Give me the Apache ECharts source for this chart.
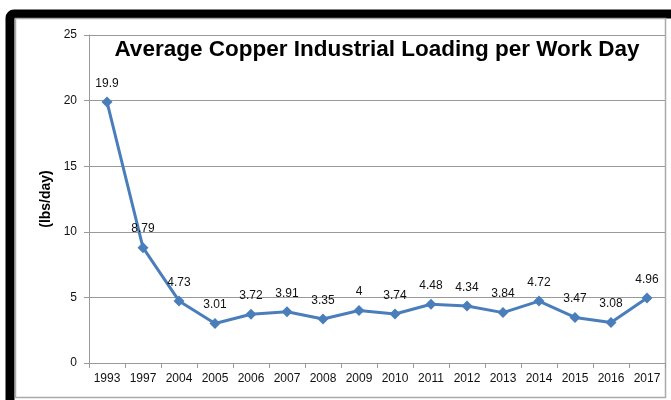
<!DOCTYPE html>
<html><head><meta charset="utf-8">
<script src="https://cdn.jsdelivr.net/npm/echarts@6/dist/echarts.min.js"></script>
<style>html,body{margin:0;padding:0;background:#fff}#c{width:671px;height:400px}</style>
</head><body><div id="c"></div>
<script>
const categories = ['1993','1997','2004','2005','2006','2007','2008','2009','2010','2011','2012','2013','2014','2015','2016','2017'];
const values = [19.9, 8.79, 4.73, 3.01, 3.72, 3.91, 3.35, 4, 3.74, 4.48, 4.34, 3.84, 4.72, 3.47, 3.08, 4.96];
const titleText = 'Average Copper Industrial Loading per Work Day';
const yName = '(lbs/day)';

const chart = echarts.init(document.getElementById('c'), null, {renderer: 'canvas'});
chart.setOption({
  animation: false,
  backgroundColor: '#fff',
  graphic: [
    {type: 'rect', shape: {x: 10, y: 14, width: 700, height: 420, r: 4}, style: {fill: 'none', stroke: '#000', lineWidth: 9}, z: 0},
    {type: 'rect', shape: {x: 15.5, y: 18.5, width: 650, height: 379}, style: {fill: 'none', stroke: '#aaa', lineWidth: 1.5}, z: 0}
  ],
  title: {
    text: titleText, left: 372, top: 33, textAlign: 'center',
    textStyle: {fontFamily: 'Liberation Sans', fontWeight: 'bold', fontSize: 22.5, color: '#000'}
  },
  grid: {left: 89, right: 6, top: 35, bottom: 37},
  xAxis: {
    type: 'category', data: categories, boundaryGap: true,
    axisLine: {lineStyle: {color: '#999', width: 1}},
    axisTick: {show: true, length: 5, lineStyle: {color: '#999'}},
    axisLabel: {color: '#111', fontSize: 12, fontFamily: 'Liberation Sans', margin: 10}
  },
  yAxis: {
    type: 'value', min: 0, max: 25, interval: 5,
    name: yName, nameLocation: 'middle', nameGap: 36, nameRotate: 90,
    nameTextStyle: {fontFamily: 'Liberation Sans', fontWeight: 'bold', fontSize: 14, color: '#000'},
    axisLine: {show: true, lineStyle: {color: '#999', width: 1}},
    axisTick: {show: true, length: 5, lineStyle: {color: '#999'}},
    splitLine: {lineStyle: {color: '#999', width: 1}},
    axisLabel: {color: '#111', fontSize: 12, fontFamily: 'Liberation Sans', margin: 12}
  },
  series: [{
    type: 'line', data: values,
    symbol: 'diamond', symbolSize: 11,
    lineStyle: {color: '#4A7EBB', width: 3},
    itemStyle: {color: '#4A7EBB'},
    label: {show: true, position: 'top', distance: 7, color: '#111', fontSize: 12, fontFamily: 'Liberation Sans'}
  }]
});
</script></body></html>
